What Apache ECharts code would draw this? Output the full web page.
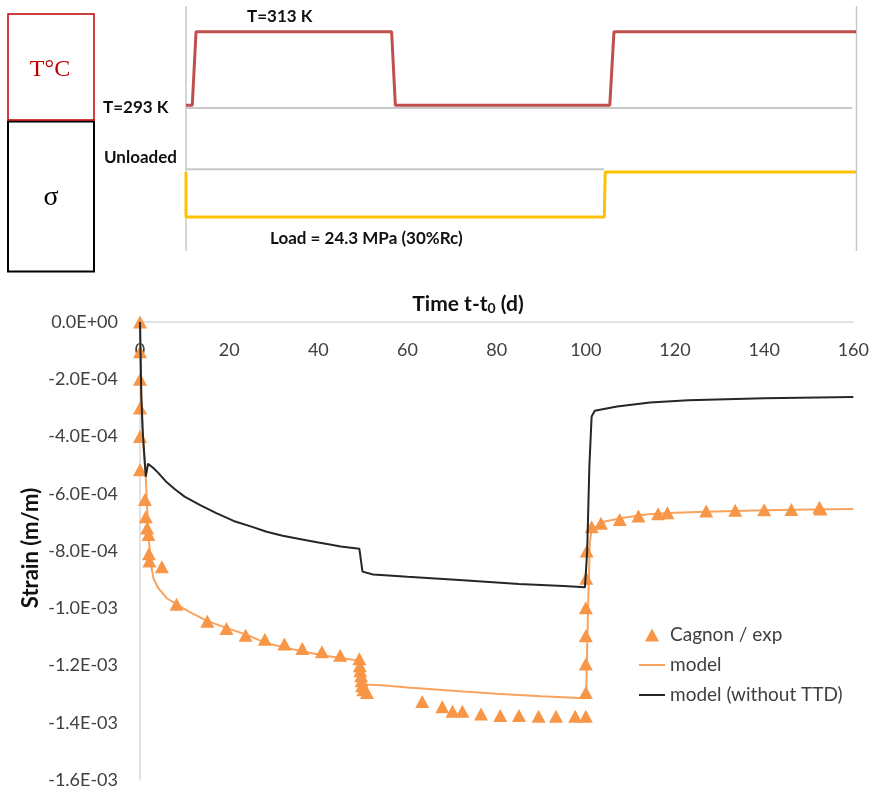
<!DOCTYPE html>
<html><head><meta charset="utf-8">
<script src="https://cdn.jsdelivr.net/npm/echarts@6/dist/echarts.min.js"></script>
<style>html,body{margin:0;padding:0;background:#fff}#c{width:872px;height:791px}</style>
</head><body><div id="c"></div>
<script>
// ---------- data ----------
const seriesNames = ['Cagnon / exp', 'model', 'model (without TTD)'];
// temperature history (K) vs time (d)
const tempProfile = [[0,293],[1.5,293],[2.4,313],[49.1,313],[50.0,293],[101.2,293],[102.2,313],[160,313]];
// load history (MPa) vs time (d)
const loadProfile = [[0,0],[0,-24.3],[99.9,-24.3],[100.1,0],[160,0]];
// experimental strain (Cagnon)
const expData = [
  [0,0],[0,-1.04e-4],[0,-2.0e-4],[0,-3.0e-4],[0,-4.0e-4],[0,-5.16e-4],
  [1.1,-6.2e-4],[1.3,-6.8e-4],[1.6,-7.2e-4],[1.9,-7.42e-4],[2.0,-8.1e-4],[2.1,-8.35e-4],
  [4.9,-8.55e-4],[8.2,-9.86e-4],[15.1,-1.045e-3],[19.4,-1.071e-3],[23.7,-1.094e-3],
  [28.0,-1.108e-3],[32.4,-1.125e-3],[36.4,-1.141e-3],[40.8,-1.152e-3],[44.9,-1.164e-3],
  [49.2,-1.176e-3],[49.3,-1.201e-3],[49.4,-1.218e-3],[49.6,-1.236e-3],[49.7,-1.253e-3],
  [49.8,-1.271e-3],[50.1,-1.285e-3],[50.9,-1.294e-3],
  [63.3,-1.326e-3],[67.8,-1.344e-3],[70.1,-1.360e-3],[72.3,-1.360e-3],[76.5,-1.369e-3],
  [80.8,-1.375e-3],[85.0,-1.375e-3],[89.4,-1.377e-3],[93.3,-1.377e-3],[97.6,-1.377e-3],[100.0,-1.377e-3],
  [100.0,-1.294e-3],[100.0,-1.195e-3],[100.0,-1.096e-3],[100.0,-0.998e-3],[100.1,-0.895e-3],[100.2,-0.800e-3],
  [101.3,-7.15e-4],[103.4,-7.03e-4],[107.6,-6.9e-4],[111.8,-6.78e-4],[116.2,-6.7e-4],[118.3,-6.66e-4],
  [127.0,-6.6e-4],[133.5,-6.58e-4],[140.0,-6.56e-4],[146.1,-6.55e-4],[152.4,-6.47e-4],[152.6,-6.53e-4]
];
// model strain
const modelData = [
  [0,0],[0.3,-2.7e-4],[0.8,-4.4e-4],[1.3,-5.4e-4],[1.6,-6.5e-4],[2.0,-7.6e-4],[2.4,-8.4e-4],
  [3.0,-8.95e-4],[4.1,-9.3e-4],[6,-9.65e-4],[8.2,-9.86e-4],[11,-1.012e-3],[15,-1.044e-3],
  [20,-1.072e-3],[24,-1.093e-3],[28,-1.12e-3],[32.4,-1.137e-3],[36.4,-1.15e-3],[40.8,-1.164e-3],
  [45,-1.174e-3],[49.2,-1.183e-3],[49.6,-1.23e-3],[50.0,-1.262e-3],[50.5,-1.266e-3],[55,-1.27e-3],
  [60,-1.277e-3],[72.5,-1.291e-3],[80,-1.299e-3],[90,-1.307e-3],[99.8,-1.314e-3],
  [100.1,-1.29e-3],[100.5,-1.0e-3],[100.9,-7.7e-4],[101.3,-7.25e-4],[104,-6.98e-4],[108,-6.85e-4],
  [114,-6.72e-4],[120,-6.66e-4],[127,-6.63e-4],[140,-6.58e-4],[150,-6.55e-4],[160,-6.53e-4]
];
// model without TTD
const noTtdData = [
  [0,0],[0.3,-2.6e-4],[0.6,-3.8e-4],[0.9,-4.5e-4],[1.3,-5.4e-4],[1.5,-5.45e-4],[1.8,-4.95e-4],
  [2.0,-4.9e-4],[3,-5.1e-4],[4.1,-5.27e-4],[6,-5.6e-4],[7.9,-5.85e-4],[10,-6.1e-4],[13.5,-6.4e-4],
  [17,-6.67e-4],[21,-6.95e-4],[25,-7.15e-4],[28.4,-7.33e-4],[32,-7.47e-4],[35.2,-7.56e-4],
  [40,-7.7e-4],[42.6,-7.77e-4],[45,-7.84e-4],[49.2,-7.92e-4],[49.9,-8.72e-4],[52.3,-8.82e-4],
  [60,-8.9e-4],[72.5,-9.02e-4],[85,-9.15e-4],[95,-9.22e-4],[99.8,-9.27e-4],
  [100.3,-8.0e-4],[100.8,-5.0e-4],[101.3,-3.3e-4],[102,-3.1e-4],[107,-2.95e-4],[114.4,-2.81e-4],
  [123,-2.73e-4],[140,-2.66e-4],[160,-2.62e-4]
];
const schematicLabels = ['T=313 K', 'T=293 K', 'Unloaded', 'Load = 24.3 MPa (30%Rc)'];
const boxLabels = ['T°C', 'σ'];

// ---------- chart ----------
function sci(v) {
  if (Math.abs(v) < 1e-12) return '0.0E+00';
  const e = Math.floor(Math.log10(Math.abs(v)) + 1e-9);
  const m = v / Math.pow(10, e);
  return m.toFixed(1) + 'E' + (e < 0 ? '-' : '+') + String(Math.abs(e)).padStart(2, '0');
}
const F = 'Lato';
const chart = echarts.init(document.getElementById('c'), null, {renderer: 'canvas'});
function txt(x, y, text, font, fill, align) {
  return {type: 'text', x: x, y: y, z: 10,
    style: {text: text, font: font, fill: fill, align: align || 'left', verticalAlign: 'middle',
            textAlign: align || 'left', textVerticalAlign: 'middle'}};
}
const triIcon = 'path://M6.5,0 L13,12 L0,12 Z';
const lineIcon = 'path://M0,0 L26,0 L26,2 L0,2 Z';
const option = {
  animation: false,
  backgroundColor: '#fff',
  grid: [
    {left: 140, right: 17, top: 322, bottom: 11},
    {left: 186, right: 16, top: 31.7, height: 73.6},
    {left: 186, right: 16, top: 172, height: 45}
  ],
  xAxis: [
    {gridIndex: 0, type: 'value', min: 0, max: 160, interval: 20, position: 'top',
     axisLine: {show: true, onZero: false, lineStyle: {color: '#d9d9d9', width: 1.5}},
     axisTick: {show: false}, splitLine: {show: false},
     axisLabel: {inside: true, fontFamily: F, fontSize: 18, color: '#404040', margin: 19}},
    {gridIndex: 1, type: 'value', min: 0, max: 160, show: false},
    {gridIndex: 2, type: 'value', min: 0, max: 160, show: false}
  ],
  yAxis: [
    {gridIndex: 0, type: 'value', min: -0.0016, max: 0, interval: 0.0002,
     axisLine: {show: true, onZero: false, lineStyle: {color: '#d9d9d9', width: 1.5}},
     axisTick: {show: false}, splitLine: {show: false},
     axisLabel: {fontFamily: F, fontSize: 18, color: '#404040', margin: 22, formatter: sci}},
    {gridIndex: 1, type: 'value', min: 293, max: 313, show: false},
    {gridIndex: 2, type: 'value', min: -24.3, max: 0, show: false}
  ],
  legend: {
    orient: 'vertical', left: 634, top: 620, itemWidth: 26, itemHeight: 13, itemGap: 10,
    symbolKeepAspect: true,
    data: [{name: seriesNames[0], icon: triIcon},
           {name: seriesNames[1], icon: lineIcon},
           {name: seriesNames[2], icon: lineIcon}],
    textStyle: {fontFamily: F, fontSize: 19, color: '#404040', lineHeight: 20}
  },
  series: [
    {name: seriesNames[0], type: 'scatter', xAxisIndex: 0, yAxisIndex: 0, data: expData,
     symbol: 'triangle', symbolSize: [14, 13], itemStyle: {color: '#f79646', opacity: 1}, z: 3},
    {name: seriesNames[1], type: 'line', xAxisIndex: 0, yAxisIndex: 0, data: modelData,
     symbol: 'none', showSymbol: false, lineStyle: {color: '#f8a35e', width: 2}, itemStyle: {color: '#f8a35e'}, z: 2},
    {name: seriesNames[2], type: 'line', xAxisIndex: 0, yAxisIndex: 0, data: noTtdData,
     symbol: 'none', showSymbol: false, lineStyle: {color: '#262626', width: 2}, itemStyle: {color: '#262626'}, z: 4},
    {name: 'T', type: 'line', xAxisIndex: 1, yAxisIndex: 1, data: tempProfile, clip: false,
     symbol: 'none', lineStyle: {color: '#c0504d', width: 3}, z: 5},
    {name: 'σ', type: 'line', xAxisIndex: 2, yAxisIndex: 2, data: loadProfile, clip: false,
     symbol: 'none', lineStyle: {color: '#ffc000', width: 3}, z: 5}
  ],
  graphic: [
    // boxes
    {type: 'rect', shape: {x: 8, y: 121.5, width: 86, height: 150}, style: {fill: 'none', stroke: '#000', lineWidth: 2}},
    {type: 'rect', shape: {x: 8, y: 14, width: 86, height: 106}, style: {fill: 'none', stroke: '#c00000', lineWidth: 1.5}},
    txt(50, 70, boxLabels[0], '24px "Liberation Serif"', '#c00000', 'center'),
    txt(51, 198, boxLabels[1], '28px "Liberation Serif"', '#000', 'center'),
    // schematic frame lines
    {type: 'line', shape: {x1: 186, y1: 6, x2: 186, y2: 251}, style: {stroke: '#c8c8c8', lineWidth: 1.5}},
    {type: 'line', shape: {x1: 856.5, y1: 6, x2: 856.5, y2: 251}, style: {stroke: '#c8c8c8', lineWidth: 1.5}},
    {type: 'line', shape: {x1: 186, y1: 108, x2: 852, y2: 108}, style: {stroke: '#c8c8c8', lineWidth: 2}},
    {type: 'line', shape: {x1: 186, y1: 169.3, x2: 604, y2: 169.3}, style: {stroke: '#c8c8c8', lineWidth: 2}},
    // schematic labels
    txt(247, 17, schematicLabels[0], 'bold 17px Lato', '#111'),
    txt(103, 108, schematicLabels[1], 'bold 17px Lato', '#111'),
    txt(104, 158, schematicLabels[2], 'bold 17px Lato', '#111'),
    txt(270, 239, schematicLabels[3], 'bold 17px Lato', '#111'),
    // axis titles
    {type: 'text', x: 468, y: 303, z: 10, style: {
      text: '{a|Time t-t}{b|0}{a| (d)}', align: 'center', verticalAlign: 'middle',
      textAlign: 'center', textVerticalAlign: 'middle',
      rich: {a: {font: 'bold 21px Lato', fill: '#111', lineHeight: 24, verticalAlign: 'bottom'},
             b: {font: 'bold 14px Lato', fill: '#111', lineHeight: 14, verticalAlign: 'bottom'}}}},
    {type: 'text', x: 31, y: 548, rotation: Math.PI / 2, z: 10, style: {
      text: 'Strain (m/m)', font: 'bold 22px Lato', fill: '#111',
      align: 'center', verticalAlign: 'middle', textAlign: 'center', textVerticalAlign: 'middle'}}
  ]
};
chart.setOption(option);
</script></body></html>
